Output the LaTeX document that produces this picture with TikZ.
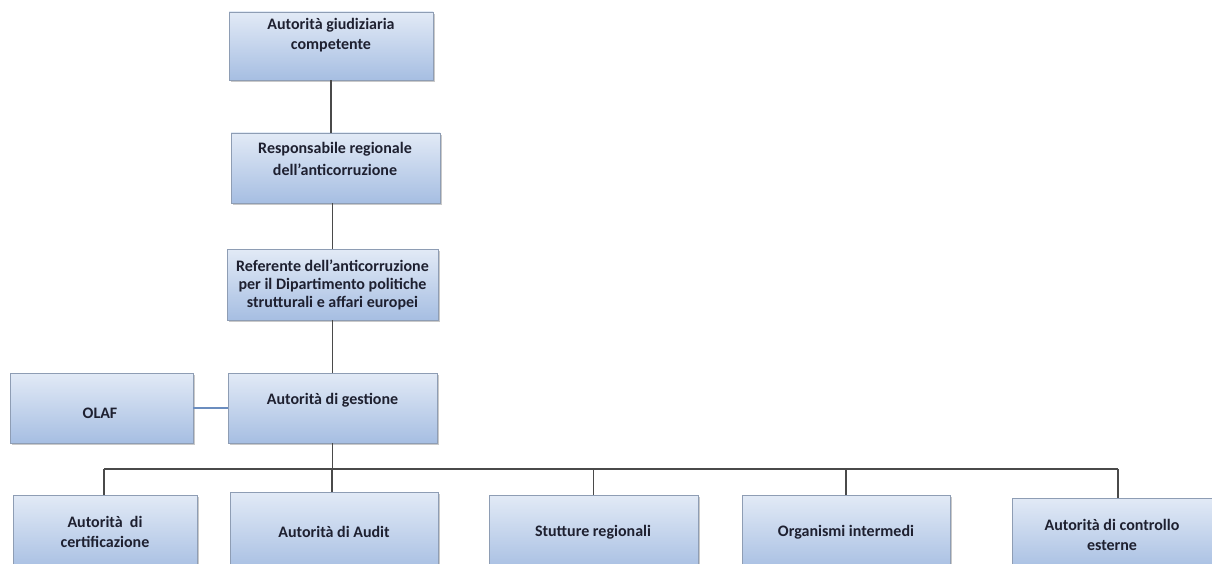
\documentclass[tikz,border=0pt]{standalone}
\usepackage{fontspec}
\setmainfont{Carlito}
\usetikzlibrary{shadows}

\definecolor{boxtop}{HTML}{E2EAF6}
\definecolor{boxbot}{HTML}{A6BEE2}
\definecolor{boxline}{HTML}{8E9DB4}
\definecolor{wire}{HTML}{4A4A4A}
\definecolor{bluewire}{HTML}{6B8DBF}
\definecolor{ink}{HTML}{1E2030}

\tikzset{
  orgbox/.style={rectangle, draw=boxline, line width=0.7pt,
    top color=boxtop, bottom color=boxbot, inner sep=0pt,
    drop shadow={shadow xshift=1.5pt, shadow yshift=-1.8pt, opacity=0.35, fill=black!60}},
  label/.style={align=center, text=ink, inner sep=0pt,
    font=\fontsize{16}{20}\selectfont\bfseries},
  wireline/.style={draw=wire, line width=1.1pt},
}

\begin{document}
\begin{tikzpicture}[x=1pt, y=-1pt]
  \useasboundingbox (0,0) rectangle (1212,564);
  \clip (0,0) rectangle (1212,564);
  \fill[white] (0,0) rectangle (1212,564);

  % chain of responsibility
  \node[orgbox, minimum width=204pt, minimum height=68pt] (giud) at (331,46) {};
  \node[orgbox, minimum width=209pt, minimum height=70pt] (resp) at (335.5,168) {};
  \node[orgbox, minimum width=211pt, minimum height=71pt] (refe) at (332.5,284.5) {};
  \node[orgbox, minimum width=209pt, minimum height=70pt] (gest) at (332.5,408) {};
  \node[orgbox, minimum width=183pt, minimum height=70pt] (olaf) at (101.5,408) {};

  % lower row
  \node[orgbox, minimum width=184pt, minimum height=77pt] (cert) at (105,533.5) {};
  \node[orgbox, minimum width=208pt, minimum height=80pt] (audit) at (334,532) {};
  \node[orgbox, minimum width=209pt, minimum height=77pt] (strut) at (593.5,533.5) {};
  \node[orgbox, minimum width=208pt, minimum height=77pt] (organ) at (846,533.5) {};
  \node[orgbox, minimum width=212pt, minimum height=74pt] (contr) at (1118,535) {};

  % texts
  \node[label] (tgiud) at (331,35) {Autorità giudiziaria\\competente};
  \node[label, font=\fontsize{16}{22}\selectfont\bfseries] (tresp) at (335,159) {Responsabile regionale\\dell'anticorruzione};
  \node[label, font=\fontsize{16}{18}\selectfont\bfseries] (trefe) at (332.5,285) {Referente dell'anticorruzione\\per il Dipartimento politiche\\strutturali e affari europei};
  \node[label] (tgest) at (332.5,400) {Autorità di gestione};
  \node[label] (tolaf) at (100,413) {OLAF};
  \node[label] (tcert) at (105,532) {Autorità \ di\\certificazione};
  \node[label] (taudit) at (334,532) {Autorità di Audit};
  \node[label] (tstrut) at (593,532) {Stutture regionali};
  \node[label] (torgan) at (846,532) {Organismi intermedi};
  \node[label] (tcontr) at (1112,535) {Autorità di controllo\\esterne};

  % vertical links
  \draw[wireline] (giud.south) -- (giud.south |- resp.north);
  \draw[wireline] (refe.north) -- (refe.north |- resp.south);
  \draw[wireline] (refe.south) -- (refe.south |- gest.north);
  \draw[draw=bluewire, line width=1.1pt] (olaf.east) -- (gest.west);

  % distribution bus
  \coordinate (bus) at (332,469);
  \coordinate (busL) at (104,469);
  \coordinate (busR) at (1118,469);
  \draw[wireline] (gest.south) -- (gest.south |- bus);
  \draw[wireline] (busL) -- (busR);
  \draw[wireline] (busL) -- (busL |- cert.north);
  \draw[wireline] (bus) -- (bus |- audit.north);
  \draw[wireline] (strut.north |- bus) -- (strut.north);
  \draw[wireline] (organ.north |- bus) -- (organ.north);
  \draw[wireline] (busR) -- (busR |- contr.north);
\end{tikzpicture}
\end{document}
